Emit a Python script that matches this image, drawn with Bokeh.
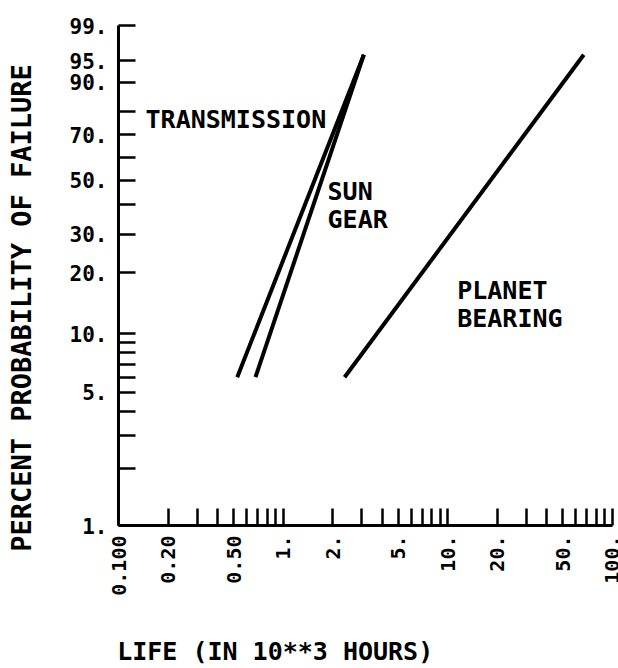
import math
import numpy as np
from bokeh.plotting import figure
from bokeh.models import FixedTicker, ColumnDataSource
from bokeh.core.properties import value
from bokeh.embed import file_html
from bokeh.resources import INLINE

# ---- data ----
series_names = ["TRANSMISSION", "SUN GEAR", "PLANET BEARING"]
transmission_life = [0.526, 3.09]      # 10**3 hours
transmission_pct = [6.0, 96.0]         # percent failed
sun_gear_life = [0.679, 3.09]
sun_gear_pct = [6.0, 96.0]
planet_life = [2.36, 66.9]
planet_pct = [6.0, 96.0]

x_ticks = [0.1, 0.2, 0.3, 0.4, 0.5, 0.6, 0.7, 0.8, 0.9, 1.0,
           2.0, 3.0, 4.0, 5.0, 6.0, 7.0, 8.0, 9.0, 10.0,
           20.0, 30.0, 40.0, 50.0, 60.0, 70.0, 80.0, 90.0, 100.0]
x_tick_labels = {0.1: "0.100", 0.2: "0.20", 0.5: "0.50", 1.0: "1.", 2.0: "2.",
                 5.0: "5.", 10.0: "10.", 20.0: "20.", 50.0: "50.", 100.0: "100."}
y_ticks_pct = [1, 2, 3, 4, 5, 6, 7, 8, 9, 10, 20, 30, 40, 50, 60, 70, 80, 90, 95, 99]
y_tick_labels = {1: "1.", 5: "5.", 10: "10.", 20: "20.", 30: "30.", 50: "50.",
                 70: "70.", 90: "90.", 95: "95.", 99: "99."}

x_title = "LIFE (IN 10**3 HOURS)"
y_title = "PERCENT PROBABILITY OF FAILURE"

# annotation anchors (life, percent)
label_text = ["TRANSMISSION", "SUN", "GEAR", "PLANET", "BEARING"]
label_life = [0.146, 1.86, 1.86, 11.4, 11.4]
label_pct = [76.5, 45.2, 34.8, 16.3, 11.9]


def weib(pct):
    """Weibull probability scale: ln(ln(1/(1-F)))."""
    f = np.asarray(pct, dtype=float) / 100.0
    return np.log(-np.log(1.0 - f))


FONT = "DejaVu Sans Mono"
NBSP = "\u00a0"

p = figure(width=618, height=668, x_axis_type="log",
           x_range=(0.1, 100.0), y_range=(float(weib(1)), float(weib(99))),
           output_backend="svg", toolbar_location=None,
           min_border_left=118, min_border_right=6,
           min_border_top=25, min_border_bottom=140)
p.background_fill_color = "white"
p.border_fill_color = "white"
p.outline_line_color = None
p.xgrid.visible = False
p.ygrid.visible = False

# lines
for xs, ps in [(transmission_life, transmission_pct),
               (sun_gear_life, sun_gear_pct),
               (planet_life, planet_pct)]:
    src = ColumnDataSource(dict(x=xs, y=weib(ps)))
    p.line("x", "y", source=src, line_color="black", line_width=4)

# text annotations
lsrc = ColumnDataSource(dict(x=label_life, y=weib(label_pct), t=label_text))
p.text("x", "y", text="t", source=lsrc, text_font=value(FONT),
       text_font_style="bold", text_font_size="25px", text_color="black",
       text_align="left", text_baseline="alphabetic")

# axes
xa = p.xaxis[0]
ya = p.yaxis[0]
xa.ticker = FixedTicker(ticks=x_ticks)
xa.major_label_overrides = {t: x_tick_labels.get(t, "") for t in x_ticks}
xa.major_label_orientation = math.pi / 2
xa.major_label_standoff = 10

y_tick_vals = [float(v) for v in weib(y_ticks_pct)]
ya.ticker = FixedTicker(ticks=y_tick_vals)
ya.major_label_overrides = {v: y_tick_labels.get(pc, "") for v, pc in zip(y_tick_vals, y_ticks_pct)}
ya.major_label_standoff = 11

for ax in (xa, ya):
    ax.axis_line_width = 3
    ax.axis_line_color = "black"
    ax.major_tick_line_width = 2.5
    ax.major_tick_line_color = "black"
    ax.major_tick_in = 17
    ax.major_tick_out = 0
    ax.minor_tick_in = 0
    ax.minor_tick_out = 0
    ax.major_label_text_font = FONT
    ax.major_label_text_font_style = "bold"
    ax.major_label_text_font_size = "21px"
    ax.major_label_text_color = "black"
    ax.axis_label_text_font = FONT
    ax.axis_label_text_font_style = "bold"
    ax.axis_label_text_color = "black"
xa.major_label_text_font_size = "20px"

# axis titles (trailing no-break spaces shift the centred titles like the original)
xa.axis_label = x_title + NBSP * 12
xa.axis_label_text_font_size = "25px"
xa.axis_label_standoff = 38

ya.axis_label = y_title + NBSP * 4
ya.axis_label_text_font_size = "27px"
ya.axis_label_standoff = 30

open("out.html", "w").write(file_html(p, INLINE))
